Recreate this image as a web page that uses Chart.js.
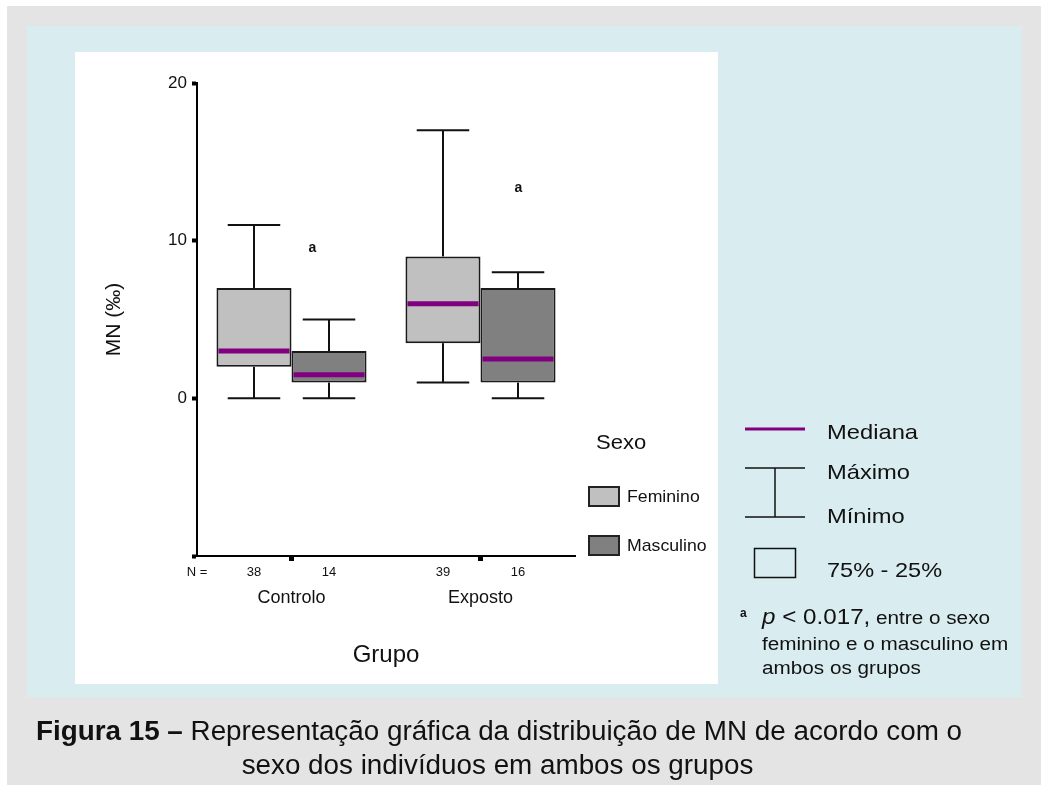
<!DOCTYPE html>
<html>
<head>
<meta charset="utf-8">
<script src="https://cdn.jsdelivr.net/npm/chart.js@4.4.1/dist/chart.umd.min.js"></script>
<style>
  html, body { margin: 0; padding: 0; background: #fff; }
  canvas { display: block; }
</style>
</head>
<body>
<canvas id="c" width="1041" height="785"></canvas>
<script>
// MN (‰) by group and sex: minimum, 25th percentile, median, 75th percentile, maximum
const groups = ['Controlo', 'Exposto'];
const sexes = ['Feminino', 'Masculino'];
const femMin = [0, 1];
const femQ1 = [2, 3.5];
const femMedian = [3, 6];
const femQ3 = [7, 9];
const femMax = [11, 17];
const mascMin = [0, 0];
const mascQ1 = [1, 1];
const mascMedian = [1.5, 2.5];
const mascQ3 = [3, 7];
const mascMax = [5, 8];
const femN = [38, 39];
const mascN = [14, 16];
const yTickValues = [0, 10, 20];
// "a" significance marks: position on the category axis and height in ‰
const sigMarkX = [0.11, 1.2];
const sigMarkY = [9.5, 13.3];

const FONT = '"Liberation Sans", Arial, Helvetica, sans-serif';
const INK = '#111';
const boxColors = ['#c0c0c0', '#808080'];
const medianColor = '#800080';

const series = [
  { min: femMin, q1: femQ1, med: femMedian, q3: femQ3, max: femMax, n: femN },
  { min: mascMin, q1: mascQ1, med: mascMedian, q3: mascQ3, max: mascMax, n: mascN }
];

function line(ctx, x1, y1, x2, y2) {
  ctx.beginPath();
  ctx.moveTo(x1, y1);
  ctx.lineTo(x2, y2);
  ctx.stroke();
}

// text drawn with a horizontal stretch factor; returns the drawn width
function wideText(ctx, text, x, y, sx) {
  ctx.save();
  ctx.translate(x, y);
  ctx.scale(sx, 1);
  ctx.fillText(text, 0, 0);
  const w = ctx.measureText(text).width * sx;
  ctx.restore();
  return w;
}

const boxPlot = {
  id: 'boxPlot',
  beforeDraw(chart) {
    const ctx = chart.ctx;
    ctx.save();
    ctx.fillStyle = '#ffffff';
    ctx.fillRect(0, 0, chart.width, chart.height);
    ctx.fillStyle = '#e4e4e4';
    ctx.fillRect(7, 6, chart.width - 7, chart.height - 6);
    ctx.fillStyle = '#d9ecef';
    ctx.fillRect(27, 26, 995, 671);
    ctx.fillStyle = '#ffffff';
    ctx.fillRect(75, 52, 643, 632);
    ctx.restore();
  },
  beforeDatasetsDraw(chart) {
    // whiskers and caps
    const ctx = chart.ctx;
    const y = chart.scales.y;
    ctx.save();
    ctx.strokeStyle = INK;
    ctx.lineWidth = 2;
    series.forEach((s, di) => {
      chart.getDatasetMeta(di).data.forEach((bar, i) => {
        const x = bar.x;
        const cap = bar.width * 0.7;
        const pMax = y.getPixelForValue(s.max[i]);
        const pMin = y.getPixelForValue(s.min[i]);
        line(ctx, x, y.getPixelForValue(s.q3[i]), x, pMax);
        line(ctx, x, y.getPixelForValue(s.q1[i]), x, pMin);
        line(ctx, x - cap / 2, pMax, x + cap / 2, pMax);
        line(ctx, x - cap / 2, pMin, x + cap / 2, pMin);
      });
    });
    ctx.restore();
  },
  afterDatasetsDraw(chart) {
    const ctx = chart.ctx;
    const y = chart.scales.y;
    const x = chart.scales.x;
    ctx.save();
    // medians
    ctx.strokeStyle = medianColor;
    ctx.lineWidth = 5;
    series.forEach((s, di) => {
      chart.getDatasetMeta(di).data.forEach((bar, i) => {
        const py = y.getPixelForValue(s.med[i]);
        line(ctx, bar.x - bar.width / 2 + 2, py, bar.x + bar.width / 2 - 2, py);
      });
    });
    // significance marks
    ctx.fillStyle = INK;
    ctx.font = 'bold 14px ' + FONT;
    ctx.textAlign = 'center';
    ctx.textBaseline = 'middle';
    sigMarkX.forEach((v, i) => {
      ctx.fillText('a', x.getPixelForValue(v), y.getPixelForValue(sigMarkY[i]));
    });
    ctx.restore();
  },
  afterDraw(chart) {
    const ctx = chart.ctx;
    const area = chart.chartArea;
    ctx.save();
    ctx.fillStyle = INK;
    ctx.textBaseline = 'middle';

    // sample sizes under the axis
    ctx.font = '13px ' + FONT;
    ctx.textAlign = 'center';
    ctx.fillText('N =', area.left, 572);
    series.forEach((s, di) => {
      chart.getDatasetMeta(di).data.forEach((bar, i) => {
        ctx.fillText(String(s.n[i]), bar.x, 572);
      });
    });

    // legend: Sexo
    ctx.textAlign = 'left';
    ctx.font = '21px ' + FONT;
    wideText(ctx, 'Sexo', 596, 443, 1.05);
    ctx.font = '17px ' + FONT;
    sexes.forEach((label, i) => {
      const top = 486 + i * 49;
      ctx.fillStyle = chart.data.datasets[i].backgroundColor;
      ctx.fillRect(588, top, 32, 21);
      ctx.strokeStyle = '#222';
      ctx.lineWidth = 2;
      ctx.strokeRect(589, top + 1, 30, 19);
      ctx.fillStyle = INK;
      wideText(ctx, label, 627, top + 11, 1.04);
    });

    // key: median, whiskers, box
    ctx.strokeStyle = medianColor;
    ctx.lineWidth = 3;
    line(ctx, 745, 429, 805, 429);
    ctx.strokeStyle = INK;
    ctx.lineWidth = 1.5;
    line(ctx, 745, 468, 805, 468);
    line(ctx, 745, 517, 805, 517);
    line(ctx, 775, 468, 775, 517);
    ctx.strokeRect(754.5, 548.5, 41, 29);
    ctx.textBaseline = 'alphabetic';
    ctx.font = '21px ' + FONT;
    wideText(ctx, 'Mediana', 827, 439, 1.13);
    wideText(ctx, 'Máximo', 827, 479, 1.13);
    wideText(ctx, 'Mínimo', 827, 523, 1.13);
    wideText(ctx, '75% - 25%', 827, 577, 1.12);

    // footnote
    ctx.font = 'bold 12px ' + FONT;
    ctx.fillText('a', 740, 617);
    ctx.font = 'italic 22px ' + FONT;
    let fx = 762 + wideText(ctx, 'p', 762, 624, 1.1);
    ctx.font = '22px ' + FONT;
    fx += wideText(ctx, ' < 0.017,', fx, 624, 1.1);
    ctx.font = '18px ' + FONT;
    wideText(ctx, ' entre o sexo', fx, 624, 1.15);
    wideText(ctx, 'feminino e o masculino em', 762, 650, 1.15);
    wideText(ctx, 'ambos os grupos', 762, 674, 1.15);

    // caption
    const boldPart = 'Figura 15 – ';
    const restPart = 'Representação gráfica da distribuição de MN de acordo com o';
    const line2 = 'sexo dos indivíduos em ambos os grupos';
    ctx.font = 'bold 27px ' + FONT;
    const wb = ctx.measureText(boldPart).width;
    ctx.font = '27px ' + FONT;
    const wr = ctx.measureText(restPart).width;
    const w2 = ctx.measureText(line2).width;
    const sx = 926 / (wb + wr);
    ctx.font = 'bold 27px ' + FONT;
    wideText(ctx, boldPart, 36, 740, sx);
    ctx.font = '27px ' + FONT;
    wideText(ctx, restPart, 36 + wb * sx, 740, sx);
    wideText(ctx, line2, 497.5 - (w2 * sx) / 2, 774, sx);

    ctx.restore();
  }
};

new Chart(document.getElementById('c'), {
  type: 'bar',
  data: {
    labels: groups,
    datasets: sexes.map((label, di) => ({
      label,
      data: groups.map((g, i) => [series[di].q1[i], series[di].q3[i]]),
      backgroundColor: boxColors[di],
      borderColor: '#1a1a1a',
      borderWidth: 2,
      borderSkipped: false,
      categoryPercentage: 0.794,
      barPercentage: 1
    }))
  },
  options: {
    responsive: false,
    animation: false,
    events: [],
    layout: { padding: { left: 87, top: 83, right: 466, bottom: 109 } },
    plugins: { legend: { display: false }, tooltip: { enabled: false } },
    scales: {
      x: {
        offset: true,
        grid: { display: true, offset: false, drawOnChartArea: false, tickLength: 5, tickWidth: 5, tickColor: '#000' },
        border: { display: true, color: '#000', width: 2 },
        ticks: { color: INK, font: { family: FONT, size: 18 }, padding: 26 },
        title: { display: true, text: 'Grupo', color: INK, font: { family: FONT, size: 24 }, padding: { top: 0, bottom: 6 } },
        afterFit(scale) { scale.height = 120; }
      },
      y: {
        min: -10,
        max: 20,
        ticks: {
          stepSize: 10,
          color: INK,
          font: { family: FONT, size: 17 },
          padding: 5,
          callback: v => (yTickValues.includes(v) ? String(v) : '')
        },
        grid: { display: true, drawOnChartArea: false, tickLength: 5, tickWidth: 4, tickColor: '#000' },
        border: { display: true, color: '#000', width: 2 },
        title: { display: true, text: 'MN (‰)', color: INK, font: { family: FONT, size: 21 }, padding: { top: 15, bottom: 0 } },
        afterFit(scale) { scale.width = 110; }
      }
    }
  },
  plugins: [boxPlot]
});
</script>
</body>
</html>
